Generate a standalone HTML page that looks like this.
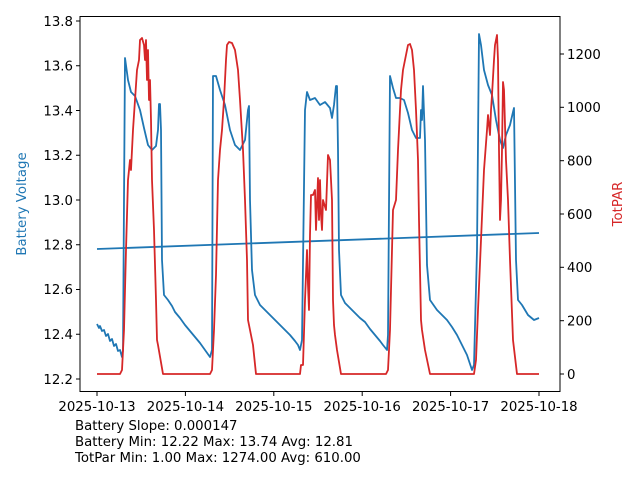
<!DOCTYPE html><html><head><meta charset="utf-8"><style>body{margin:0;background:#fff}svg{display:block;font-family:"DejaVu Sans","Liberation Sans",sans-serif}</style></head><body>
<svg width="640" height="480" viewBox="0 0 640 480" xmlns="http://www.w3.org/2000/svg">
<rect width="640" height="480" fill="#fff"/>
<polyline fill="none" stroke="#1f77b4" stroke-width="1.8" points="97,249 539,233"/>
<polyline fill="none" stroke="#1f77b4" stroke-width="1.8" stroke-linejoin="round" points="97,324 99,328 100,326 102,331 104,330 106,336 108,334 110,341 112,339 114,346 116,344 118,351 120,350 122,357 123,350 124,200 125,58 128,80 131,92 135,96 140,110 144,128 148,145 152,150 156,146 158,130 159,104 160,104 161,130 162,260 164,295 168,300 172,306 175,312 180,318 185,325 190,331 195,337 200,343 205,350 210,357 212,350 213,76 216,76 220,90 225,105 230,130 235,145 240,150 245,140 248,110 249,106 250,200 252,270 255,295 260,305 265,310 270,315 275,320 280,325 285,330 290,335 295,341 298,345 300,350 302,340 305,110 307,92 310,100 315,98 320,105 325,102 330,108 332,118 334,105 336,86 337,86 338,150 339,250 341,295 345,303 350,308 355,313 360,318 365,322 370,329 375,335 380,341 383,345 387,350 388,335 390,76 393,88 396,98 400,98 404,100 408,113 412,130 416,138 420,138 421,110 422,120 423,86 425,140 427,265 430,300 437,310 442,315 447,320 452,327 457,335 462,345 467,355 472,370 474,365 477,250 479,34 481,45 484,70 488,85 492,95 496,120 500,140 503,148 506,135 510,125 513,112 514,108 516,260 518,300 522,305 528,315 534,320 539,318"/>
<polyline fill="none" stroke="#d62728" stroke-width="1.8" stroke-linejoin="round" points="97,374 120,374 122,370 124,330 126,250 128,180 130,160 131,170 133,130 135,100 137,70 139,60 140,40 142,38 144,45 145,60 146,40 147,80 148,50 149,100 150,80 151,120 152,180 154,230 156,300 157,340 158,345 163,374 210,374 212,370 214,330 216,275 218,180 220,150 222,130 224,100 226,60 227,45 229,42 232,43 235,50 238,70 240,100 243,150 245,200 247,260 248,320 250,330 253,345 256,374 300,374 301,365 303,365 305,300 307,250 308,285 309,310 310,235 311,195 313,195 315,190 316,230 317,205 318,178 319,220 320,180 321,215 322,230 323,200 326,210 328,155 330,160 332,200 333,300 334,325 335,335 337,350 341,374 386,374 388,370 390,330 393,210 396,200 398,150 401,90 403,70 406,55 408,45 410,44 412,50 414,70 416,110 418,160 419,220 420,270 421,320 422,330 425,350 430,374 474,374 476,360 478,310 481,240 484,170 487,130 488,115 490,135 491,110 492,95 494,60 495,45 497,35 498,60 499,150 500,220 501,200 502,150 503,82 504,90 506,160 508,200 510,260 513,340 517,374 539,374"/>
<rect x="80" y="16.5" width="480" height="375" fill="none" stroke="#000" stroke-width="1"/>
<g stroke="#000" stroke-width="1">
<line x1="76" x2="80" y1="379" y2="379"/><line x1="76" x2="80" y1="334.25" y2="334.25"/><line x1="76" x2="80" y1="289.5" y2="289.5"/><line x1="76" x2="80" y1="244.75" y2="244.75"/><line x1="76" x2="80" y1="200" y2="200"/><line x1="76" x2="80" y1="155.25" y2="155.25"/><line x1="76" x2="80" y1="110.5" y2="110.5"/><line x1="76" x2="80" y1="65.75" y2="65.75"/><line x1="76" x2="80" y1="21" y2="21"/>
<line x1="560" x2="564" y1="374" y2="374"/><line x1="560" x2="564" y1="320.7" y2="320.7"/><line x1="560" x2="564" y1="267.3" y2="267.3"/><line x1="560" x2="564" y1="214" y2="214"/><line x1="560" x2="564" y1="160.7" y2="160.7"/><line x1="560" x2="564" y1="107.3" y2="107.3"/><line x1="560" x2="564" y1="54" y2="54"/>
<line x1="97" x2="97" y1="392" y2="396"/><line x1="185.4" x2="185.4" y1="392" y2="396"/><line x1="273.8" x2="273.8" y1="392" y2="396"/><line x1="362.2" x2="362.2" y1="392" y2="396"/><line x1="450.6" x2="450.6" y1="392" y2="396"/><line x1="539" x2="539" y1="392" y2="396"/>
</g>
<g font-size="13.3" fill="#000" text-anchor="end">
<text x="73" y="384">12.2</text><text x="73" y="339">12.4</text><text x="73" y="294">12.6</text><text x="73" y="249.5">12.8</text><text x="73" y="205">13.0</text><text x="73" y="160">13.2</text><text x="73" y="115.5">13.4</text><text x="73" y="70.5">13.6</text><text x="73" y="26">13.8</text>
</g>
<g font-size="13.3" fill="#000" text-anchor="start">
<text x="567" y="379">0</text><text x="567" y="325.5">200</text><text x="567" y="272">400</text><text x="567" y="219">600</text><text x="567" y="165.5">800</text><text x="567" y="112">1000</text><text x="567" y="59">1200</text>
</g>
<g font-size="13.3" fill="#000" text-anchor="middle">
<text x="97" y="411">2025-10-13</text><text x="185.4" y="411">2025-10-14</text><text x="273.8" y="411">2025-10-15</text><text x="362.2" y="411">2025-10-16</text><text x="450.6" y="411">2025-10-17</text><text x="539" y="411">2025-10-18</text>
</g>
<text transform="translate(26,204) rotate(-90)" font-size="13.3" fill="#1f77b4" text-anchor="middle">Battery Voltage</text>
<text transform="translate(622,204) rotate(-90)" font-size="13.3" fill="#d62728" text-anchor="middle">TotPAR</text>
<g font-size="13.3" fill="#000">
<text x="75" y="430">Battery Slope: 0.000147</text>
<text x="75" y="446">Battery Min: 12.22 Max: 13.74 Avg: 12.81</text>
<text x="75" y="462">TotPar Min: 1.00 Max: 1274.00 Avg: 610.00</text>
</g>
</svg></body></html>
